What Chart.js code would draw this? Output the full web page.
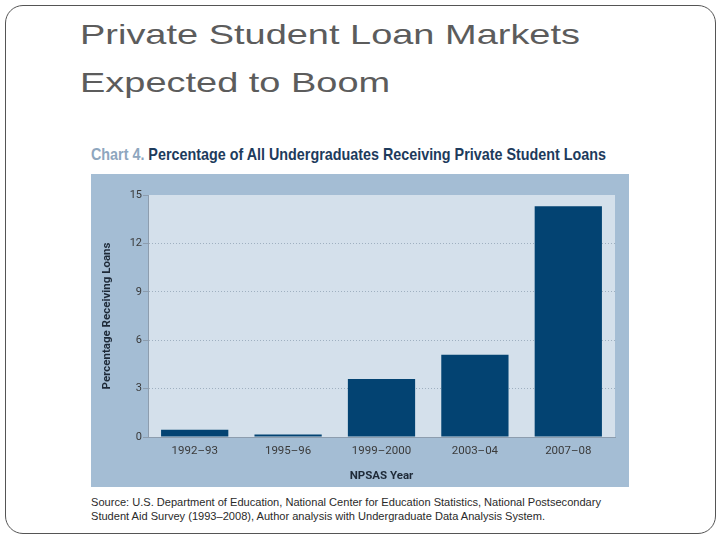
<!DOCTYPE html>
<html><head><meta charset="utf-8">
<script src="https://cdn.jsdelivr.net/npm/chart.js@4"></script>
<style>
html,body{margin:0;padding:0;background:#fff;}
body{width:720px;height:540px;position:relative;overflow:hidden;font-family:"Liberation Sans",Arial,sans-serif;}
#frame{position:absolute;left:5px;top:5px;width:709px;height:527px;border:1px solid #555;border-radius:18px;}
.tl{position:absolute;left:80px;font-family:"Liberation Sans",Arial,sans-serif;font-weight:400;font-size:28px;line-height:34px;color:#5c5c5c;white-space:nowrap;transform-origin:0 0;}
#ctitle{position:absolute;left:91px;top:145px;font-family:"Liberation Sans",Arial,sans-serif;font-weight:bold;font-size:17px;line-height:20px;color:#1d3b5c;white-space:nowrap;transform-origin:0 0;}
#ctitle span{color:#8ea6be;}
#wrap{position:absolute;left:91px;top:174px;width:538px;height:313px;background:#a4bdd4;}
.src{position:absolute;left:91px;font-size:10.3px;line-height:14px;color:#2a2a2a;white-space:nowrap;transform-origin:0 0;}
</style></head>
<body>
<div id="frame"></div>
<div class="tl" id="t1" style="top:18px">Private Student Loan Markets</div>
<div class="tl" id="t2" style="top:66px">Expected to Boom</div>
<div id="ctitle"><span>Chart 4.</span> Percentage of All Undergraduates Receiving Private Student Loans</div>
<div id="wrap"><canvas id="c" width="538" height="313"></canvas></div>
<div class="src" id="s1" style="top:496px">Source: U.S. Department of Education, National Center for Education Statistics, National Postsecondary</div>
<div class="src" id="s2" style="top:510px">Student Aid Survey (1993–2008), Author analysis with Undergraduate Data Analysis System.</div>
<script>
const categories = ["1992–93", "1995–96", "1999–2000", "2003–04", "2007–08"];
const percentReceiving = [0.45, 0.15, 3.6, 5.1, 14.3];
const yTicks = [0, 3, 6, 9, 12, 15];

// fit text widths to the reference layout
function fitScale(id, w) {
  const el = document.getElementById(id);
  const cw = el.getBoundingClientRect().width;
  const s = w / cw;
  el.style.transform = 'scaleX(' + s + ')';
  return s;
}
const ts = fitScale('t1', 500);
document.getElementById('t2').style.transform = 'scaleX(' + ts + ')';
fitScale('ctitle', 515);
const ss = fitScale('s1', 510);
document.getElementById('s2').style.transform = 'scaleX(' + ss + ')';

const condensed = 'Roboto,"Liberation Sans",sans-serif';

const plotBg = {
  id: 'plotBg',
  beforeDraw(chart) {
    const {ctx, chartArea: a} = chart;
    ctx.save();
    ctx.fillStyle = '#d4e0eb';
    ctx.fillRect(a.left, a.top, a.right - a.left, a.bottom - a.top);
    ctx.restore();
  }
};

new Chart(document.getElementById('c'), {
  type: 'bar',
  data: {
    labels: categories,
    datasets: [{
      data: percentReceiving,
      backgroundColor: '#034372',
      borderWidth: 0,
      barPercentage: 0.72,
      categoryPercentage: 1
    }]
  },
  options: {
    responsive: false,
    animation: false,
    layout: {padding: {left: 0, top: 21, right: 14, bottom: 0}},
    plugins: {legend: {display: false}, tooltip: {enabled: false}},
    scales: {
      x: {
        afterFit: s => { s.height = 50; },
        grid: {drawOnChartArea: false, drawTicks: false},
        border: {display: true, color: '#8d9dae', width: 1},
        ticks: {color: '#3a3a3a', font: {family: condensed, size: 11.5}, padding: 7},
        title: {display: true, text: 'NPSAS Year', color: '#1e2a38', font: {family: condensed, size: 11.5, weight: 'bold'}, padding: {top: 1}}
      },
      y: {
        min: 0, max: 15,
        afterFit: s => { s.width = 57; },
        afterBuildTicks: s => { s.ticks = yTicks.map(v => ({value: v})); },
        grid: {
          color: c => (c.tick && (c.tick.value === 0 || c.tick.value === 15)) ? 'rgba(0,0,0,0)' : '#9fb0c0',
          tickColor: '#8d9dae',
          tickLength: 5,
          lineWidth: 1
        },
        border: {display: true, color: '#8d9dae', width: 1, dash: [1, 2]},
        ticks: {color: '#3a3a3a', font: {family: condensed, size: 11}, padding: 1},
        title: {display: true, text: 'Percentage Receiving Loans', color: '#1e2a38', font: {family: condensed, size: 11.5, weight: 'bold'}, padding: {top: 9, bottom: 0}}
      }
    }
  },
  plugins: [plotBg]
});
</script>
</body></html>
